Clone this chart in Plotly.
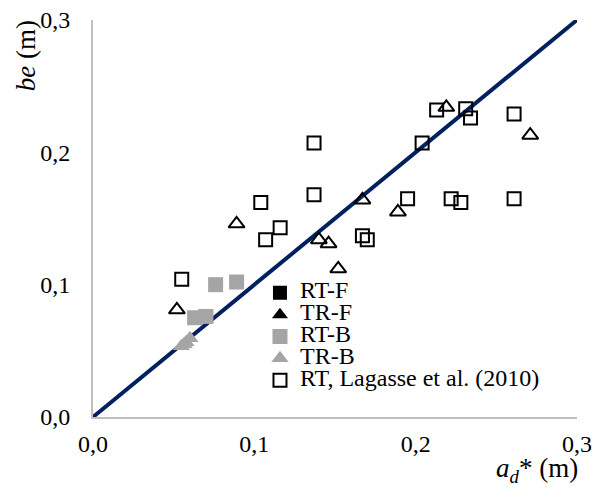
import plotly.graph_objects as go

# ---- data ----
line_x = [0.0, 0.3]
line_y = [0.0, 0.3]

rt_f_x = [None]
rt_f_y = [None]
tr_f_x = [None]
tr_f_y = [None]

rt_b_x = [0.076, 0.089, 0.063, 0.070]
rt_b_y = [0.100, 0.102, 0.075, 0.076]

tr_b_x = [0.0548, 0.0565, 0.0577, 0.0601]
tr_b_y = [0.0535, 0.0550, 0.0565, 0.0595]

rt_lag_x = [0.213, 0.231, 0.234, 0.261, 0.137, 0.204, 0.104, 0.137, 0.195,
            0.222, 0.228, 0.261, 0.116, 0.107, 0.167, 0.170, 0.055]
rt_lag_y = [0.232, 0.233, 0.226, 0.229, 0.207, 0.207, 0.162, 0.168, 0.165,
            0.165, 0.162, 0.165, 0.143, 0.134, 0.137, 0.134, 0.104]

tr_lag_x = [0.219, 0.271, 0.167, 0.189, 0.089, 0.140, 0.146, 0.152, 0.052]
tr_lag_y = [0.234, 0.213, 0.164, 0.155, 0.146, 0.134, 0.131, 0.112, 0.081]

tick_vals = [0.0, 0.1, 0.2, 0.3]

GRAY = "#a5a5a5"
FONT = "Times New Roman"


def lname(s):
    return '<span style="font-size:24px">' + s + '</span>'


fig = go.Figure()

fig.add_trace(go.Scatter(x=line_x, y=line_y, mode="lines",
                         line=dict(color="#002060", width=4),
                         showlegend=False, hoverinfo="skip"))

fig.add_trace(go.Scatter(x=rt_f_x, y=rt_f_y, mode="markers", name=lname("RT-F"),
                         marker=dict(symbol="square", color="black", size=14)))
fig.add_trace(go.Scatter(x=tr_f_x, y=tr_f_y, mode="markers", name=lname("TR-F"),
                         marker=dict(symbol="triangle-up", color="black", size=14)))
fig.add_trace(go.Scatter(x=rt_b_x, y=rt_b_y, mode="markers", name=lname("RT-B"),
                         marker=dict(symbol="square", color=GRAY, size=15)))
fig.add_trace(go.Scatter(x=tr_b_x, y=tr_b_y, mode="markers", name=lname("TR-B"),
                         marker=dict(symbol="triangle-up", color=GRAY, size=15)))
fig.add_trace(go.Scatter(x=rt_lag_x, y=rt_lag_y, mode="markers",
                         name=lname("RT, Lagasse et al. (2010)"),
                         marker=dict(symbol="square-open", color="black", size=13,
                                     line=dict(width=2, color="black"))))
fig.add_trace(go.Scatter(x=tr_lag_x, y=tr_lag_y, mode="markers",
                         name="TR, Lagasse et al. (2010)", showlegend=False,
                         marker=dict(symbol="triangle-up-open", color="black", size=14,
                                     line=dict(width=2, color="black"))))

axis_common = dict(range=[0, 0.3], tickvals=tick_vals, tickformat=".1f",
                   showline=True, linecolor="#bfbfbf", linewidth=2,
                   showgrid=False, zeroline=False, ticks="", automargin=False,
                   tickfont=dict(family=FONT, size=24, color="black"))

fig.update_xaxes(**axis_common, ticklabelstandoff=4)
fig.update_yaxes(**axis_common, ticklabelstandoff=16)

fig.update_layout(
    width=592, height=494,
    margin=dict(l=93, r=15, t=20, b=77),
    paper_bgcolor="white", plot_bgcolor="white",
    separators=", ",
    font=dict(family=FONT, size=24, color="black"),
    showlegend=True,
    legend=dict(x=0.345, y=0.353, xanchor="left", yanchor="top",
                bgcolor="rgba(0,0,0,0)", font=dict(family=FONT, size=14.5, color="black"),
                tracegroupgap=0),
    annotations=[
        dict(text="<i>be</i> (m)", xref="paper", yref="paper",
             x=-0.1384, y=0.909, textangle=-90, showarrow=False,
             xanchor="center", yanchor="middle",
             font=dict(family=FONT, size=27, color="black")),
        dict(text="<i>a<sub>d</sub></i>* (m)", xref="paper", yref="paper",
             x=1.006, y=-0.1335, showarrow=False,
             xanchor="right", yanchor="middle",
             font=dict(family=FONT, size=27, color="black")),
    ],
)

fig.write_html("out.html", config={"displayModeBar": False},
               post_script="document.body.style.margin='0px';")
